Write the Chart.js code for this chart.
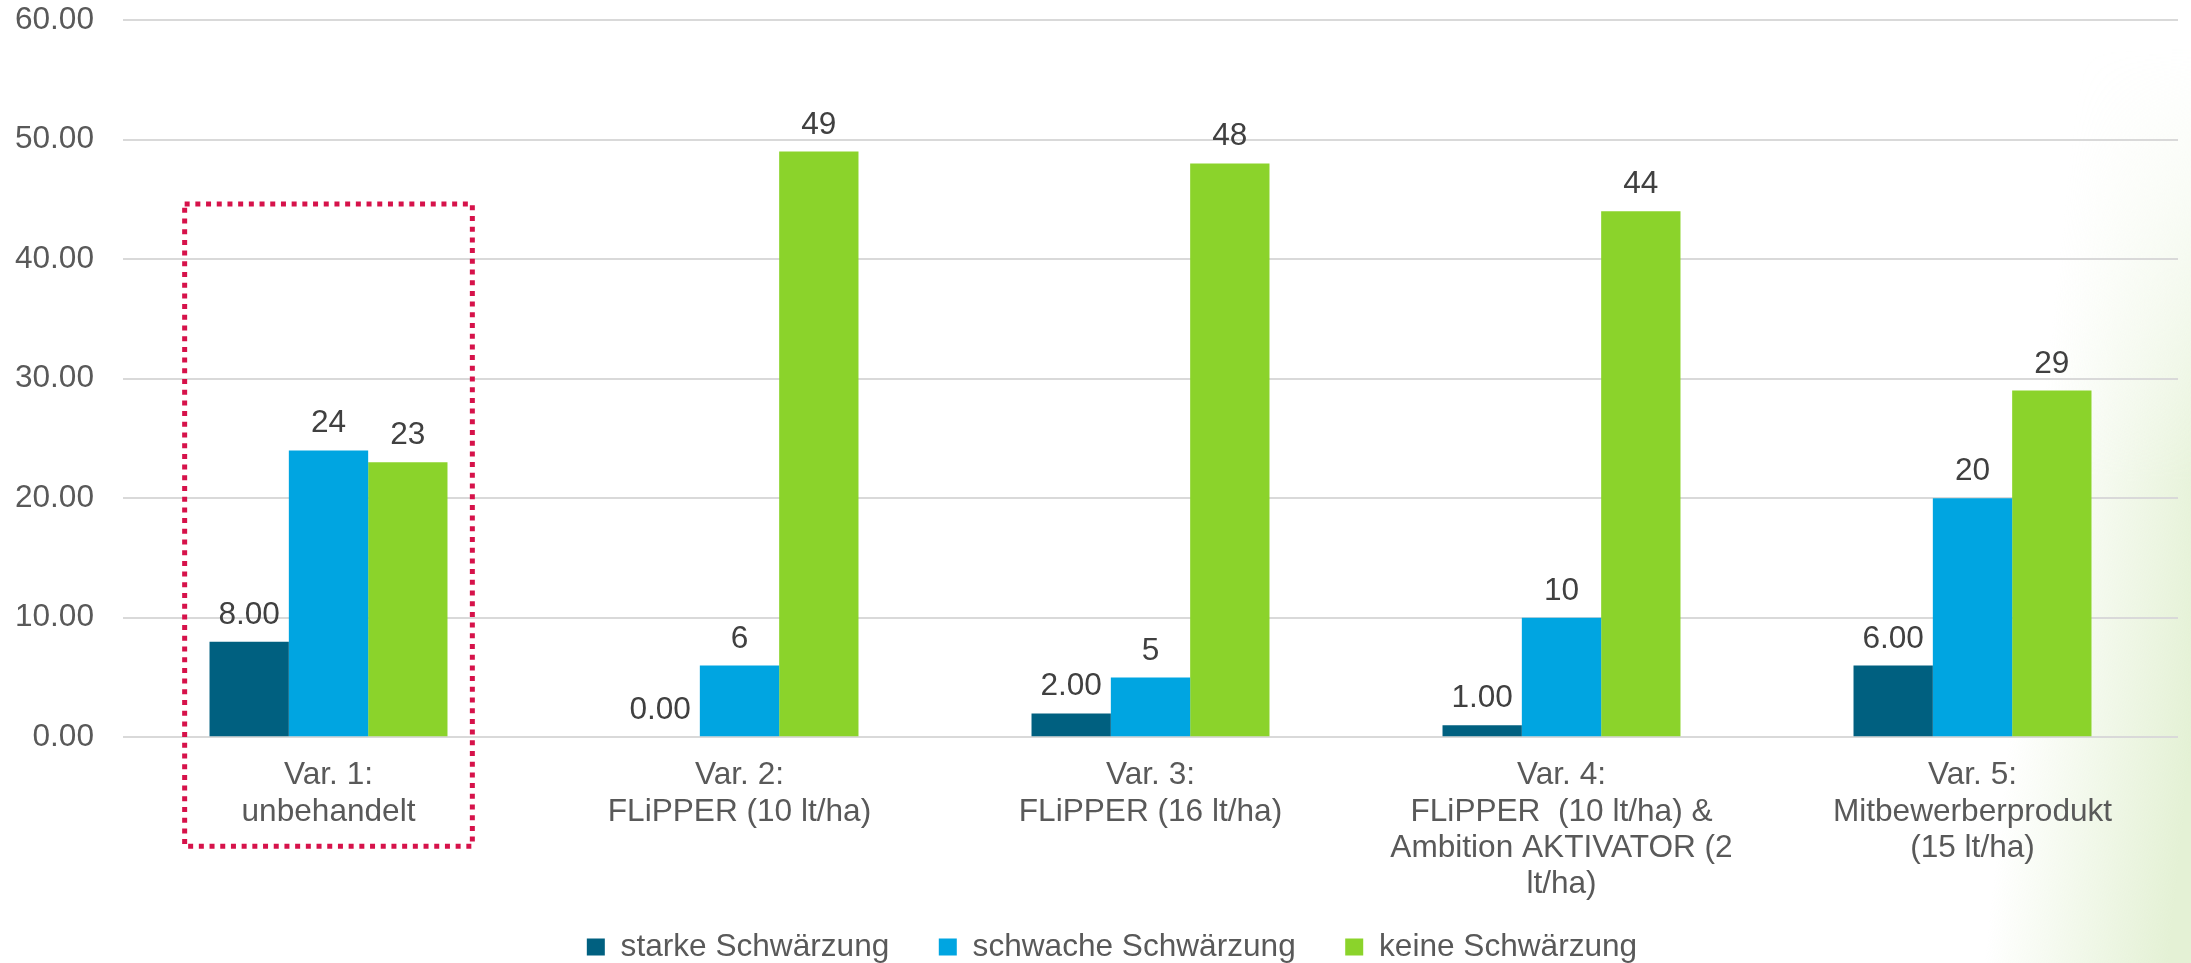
<!DOCTYPE html>
<html lang="de">
<head>
<meta charset="utf-8">
<title>Schwärzung je Variante</title>
<script src="https://cdn.jsdelivr.net/npm/chart.js@4/dist/chart.umd.min.js"></script>
<style>
  html, body { margin: 0; padding: 0; background: #ffffff; }
  #wrap { position: relative; width: 2191px; height: 963px; overflow: hidden; }
  #tint {
    position: absolute; inset: 0;
    background: linear-gradient(96deg, rgba(230,242,216,0) 0%, rgba(230,242,216,0) 91%, rgba(228,241,213,1) 99%);
    -webkit-mask-image: linear-gradient(to bottom, transparent 5%, #000 50%);
    mask-image: linear-gradient(to bottom, transparent 5%, #000 50%);
  }
  #chart { position: absolute; left: 0; top: 0; }
</style>
</head>
<body>
<div id="wrap">
  <div id="tint"></div>
  <canvas id="chart" width="2191" height="963"></canvas>
</div>
<script>
// Kategorien (Varianten), mehrzeilig beschriftet
const categories = [
  ["Var. 1:", "unbehandelt"],
  ["Var. 2:", "FLiPPER (10 lt/ha)"],
  ["Var. 3:", "FLiPPER (16 lt/ha)"],
  ["Var. 4:", "FLiPPER  (10 lt/ha) &", "Ambition AKTIVATOR (2", "lt/ha)"],
  ["Var. 5:", "Mitbewerberprodukt", "(15 lt/ha)"]
];

// Werte je Schwärzungsgrad
const starkeSchwaerzung   = [8, 0, 2, 1, 6];
const schwacheSchwaerzung = [24, 6, 5, 10, 20];
const keineSchwaerzung    = [23, 49, 48, 44, 29];

const seriesNames = ["starke Schwärzung", "schwache Schwärzung", "keine Schwärzung"];

// Y-Achse
const yMin = 0;
const yMax = 60;
const yStep = 10;

// Markierte Variante (gepunkteter Rahmen)
const highlightIndex = 0;
const highlightTopValue = 44.6;

const FONT = "'Liberation Sans', Arial, Helvetica, sans-serif";
const FONT_SIZE = 31.6;
const LEGEND_PAD = 49.5;

// Wertbeschriftungen über den Balken
const valueLabels = {
  id: 'valueLabels',
  afterDatasetsDraw(chart) {
    const ctx = chart.ctx;
    ctx.save();
    ctx.font = FONT_SIZE + 'px ' + FONT;
    ctx.fillStyle = '#404040';
    ctx.textAlign = 'center';
    ctx.textBaseline = 'alphabetic';
    chart.data.datasets.forEach((ds, di) => {
      const meta = chart.getDatasetMeta(di);
      meta.data.forEach((bar, i) => {
        const v = ds.data[i];
        const txt = ds.labelDecimals ? v.toFixed(ds.labelDecimals) : String(v);
        ctx.fillText(txt, bar.x, bar.y - 18);
      });
    });
    ctx.restore();
  }
};

// Gepunkteter Rahmen um eine Variante
const highlightBox = {
  id: 'highlightBox',
  afterDraw(chart) {
    const xs = chart.scales.x, ys = chart.scales.y;
    const band = xs.getPixelForValue(1) - xs.getPixelForValue(0);
    const cx = xs.getPixelForValue(highlightIndex);
    const left = cx - 0.35 * band;
    const right = cx + 0.35 * band;
    const top = ys.getPixelForValue(highlightTopValue);
    const bottom = chart.chartArea.bottom + 109;
    const ctx = chart.ctx;
    ctx.save();
    ctx.strokeStyle = '#D6124A';
    ctx.lineWidth = 5;
    ctx.lineCap = 'butt';
    ctx.setLineDash([5, 5.7]);
    ctx.strokeRect(left, top, right - left, bottom - top);
    ctx.restore();
  }
};

// Legende unten etwas näher an die Achsenbeschriftung rücken
const legendPlacement = {
  id: 'legendPlacement',
  afterLayout(chart) {
    const lg = chart.legend;
    if (!lg) return;
    const h = lg.bottom - lg.top;
    lg.top = chart.height - 16 - LEGEND_PAD - FONT_SIZE / 2;
    lg.bottom = lg.top + h;
    lg.left += 23;
    lg.right += 23;
  }
};

new Chart(document.getElementById('chart'), {
  type: 'bar',
  data: {
    labels: categories,
    datasets: [
      { label: seriesNames[0], data: starkeSchwaerzung,   backgroundColor: '#006080', labelDecimals: 2 },
      { label: seriesNames[1], data: schwacheSchwaerzung, backgroundColor: '#00A5E1', labelDecimals: 0 },
      { label: seriesNames[2], data: keineSchwaerzung,    backgroundColor: '#8BD32B', labelDecimals: 0 }
    ]
  },
  options: {
    responsive: false,
    animation: false,
    devicePixelRatio: 1,
    categoryPercentage: 0.579,
    barPercentage: 1.0,
    layout: { padding: { left: 0, right: 13, top: 20, bottom: -35.4 } },
    plugins: {
      tooltip: { enabled: false },
      legend: {
        position: 'bottom',
        labels: {
          font: { family: FONT, size: FONT_SIZE },
          color: '#595959',
          boxWidth: 18,
          boxHeight: 17,
          padding: LEGEND_PAD
        }
      }
    },
    scales: {
      x: {
        grid: { display: false, drawTicks: false },
        border: { display: false },
        ticks: {
          font: { family: FONT, size: FONT_SIZE, lineHeight: 1.15 },
          color: '#595959',
          padding: 20,
          maxRotation: 0,
          autoSkip: false
        },
        afterFit(scale) { scale.height = 170; }
      },
      y: {
        min: yMin,
        max: yMax,
        grid: { color: '#D9D9D9', lineWidth: 2, drawTicks: true, tickLength: 29, tickColor: 'rgba(0,0,0,0)' },
        border: { display: false },
        ticks: {
          stepSize: yStep,
          font: { family: FONT, size: FONT_SIZE },
          color: '#595959',
          padding: 0,
          callback: (v) => Number(v).toFixed(2)
        },
        afterFit(scale) { scale.width = 123; }
      }
    }
  },
  plugins: [valueLabels, highlightBox, legendPlacement]
});
</script>
</body>
</html>
